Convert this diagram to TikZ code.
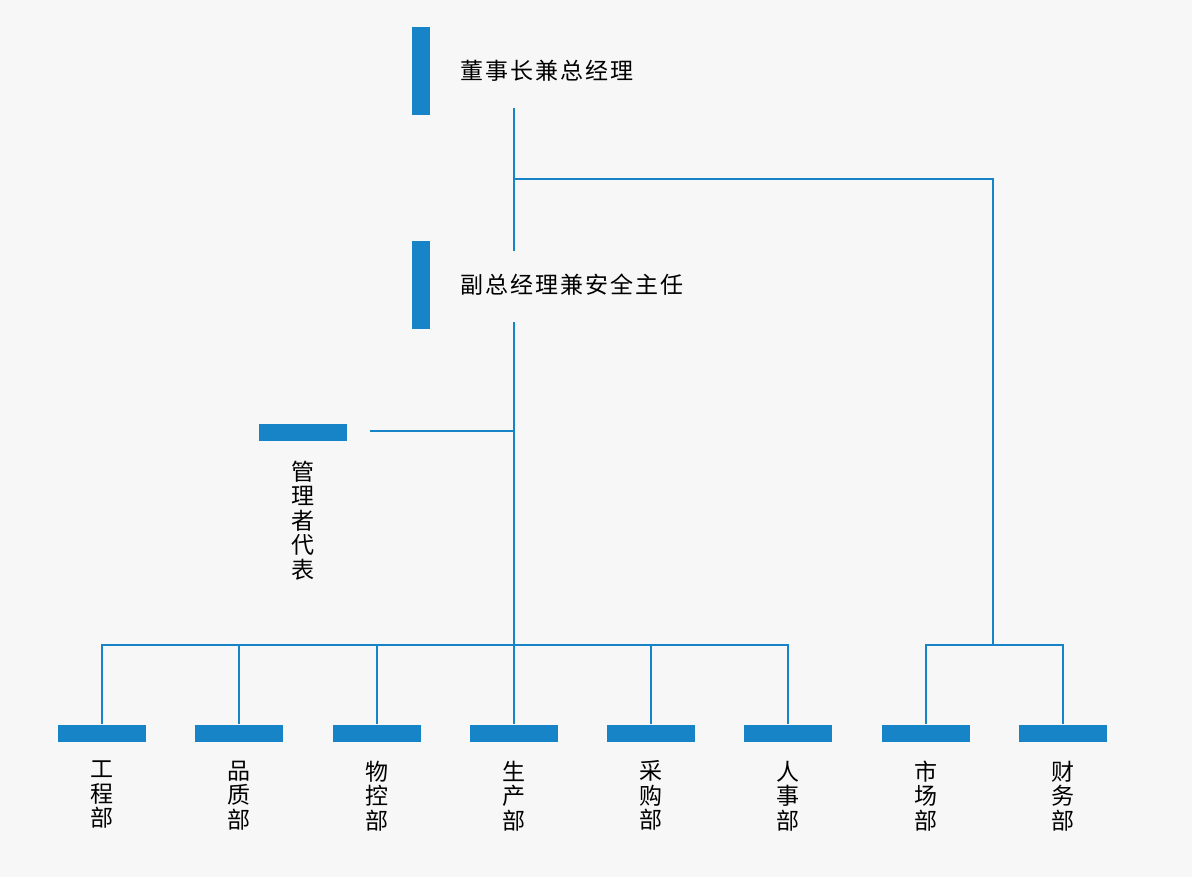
\documentclass[tikz,border=0pt]{standalone}
\usepackage{fontspec}
\setmainfont{Noto Sans CJK SC}
\usetikzlibrary{positioning}
\definecolor{barBlue}{HTML}{1784C7}
\definecolor{pageGray}{HTML}{F7F7F7}

\begin{document}
\begin{tikzpicture}[x=1pt, y=-1pt, font=\fontsize{23}{24.5}\selectfont,
    vbar/.style={fill=barBlue, minimum width=18pt, minimum height=88pt, inner sep=0pt},
    hbar/.style={fill=barBlue, minimum width=88pt, minimum height=17pt, inner sep=0pt},
    link/.style={draw=barBlue, line width=2pt},
    title/.style={anchor=west, inner sep=0pt,
      font=\fontsize{23}{24.5}\selectfont\addfontfeature{LetterSpace=9}},
    dept/.style={align=center, inner sep=0pt}]
    \fill[pageGray] (0,0) rectangle (1192,877);
    \useasboundingbox (0,0) rectangle (1192,877);
    % ---- heads
    \node[vbar] (chair) at (421,71) {};
    \node[title] (chairText) at (460,71) {董事长兼总经理};
    \node[vbar] (vice) at (421,285) {};
    \node[title] (viceText) at (460,285) {副总经理兼安全主任};
    \node[hbar] (rep) at (303,432) {};
    \node[dept, below=20pt of rep] (repText) {管\\理\\者\\代\\表};
    % ---- departments
    \foreach \name/\x/\txt in {eng/102/工\\程\\部, qua/239/品\\质\\部, mat/377/物\\控\\部,
        prod/514/生\\产\\部, pur/651/采\\购\\部, hr/788/人\\事\\部,
        mkt/926/市\\场\\部, fin/1063/财\\务\\部} {
      \node[hbar] (\name) at (\x,733) {};
      \node[dept, below=19pt of \name] (\name Text) {\txt};
    }
    % ---- joints
    \coordinate (chairFoot) at (514,108);
    \coordinate (viceHead) at (514,251);
    \coordinate (viceFoot) at (514,322);
    \coordinate (repTip) at (370,431);
    \coordinate (mainBus) at (514,645);
    \coordinate (sideBus) at (993,645);
    % ---- links
    \draw[link] (chairFoot) -- (viceHead);
    \draw[link] (chairFoot |- 0,179) -| (sideBus);
    \draw[link] (viceFoot) -- (prod.north);
    \draw[link] (repTip) -- (viceFoot |- repTip);
    \draw[link] (eng.north) |- (mainBus) -| (hr.north);
    \foreach \name in {qua,mat,pur} { \draw[link] (\name.north) -- (\name.north |- mainBus); }
    \draw[link] (mkt.north) |- (sideBus) -| (fin.north);
  \end{tikzpicture}
\end{document}
